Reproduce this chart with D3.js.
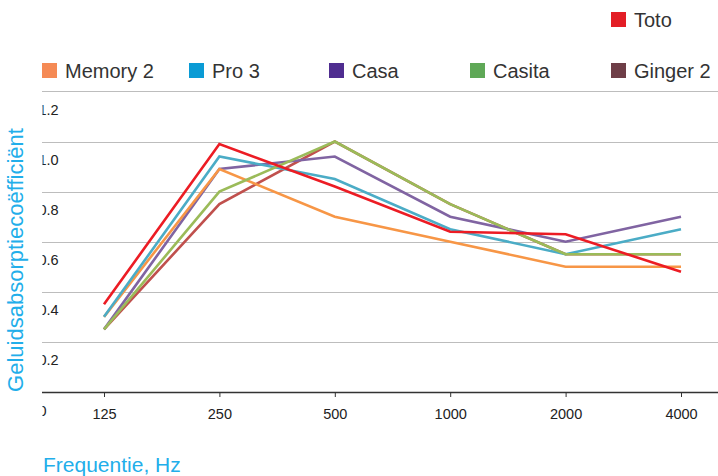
<!DOCTYPE html>
<html><head><meta charset="utf-8">
<script src="https://cdn.jsdelivr.net/npm/d3@7"></script>
<style>body{margin:0;background:#fff}svg{display:block}text{font-family:"Liberation Sans",Arial,sans-serif}</style>
</head><body><svg id="c" width="718" height="476"></svg>
<script>
const categories = ["125","250","500","1000","2000","4000"];
const yTicks = [0,0.2,0.4,0.6,0.8,1.0,1.2];
const yTickLabels = ["0","0.2","0.4","0.6","0.8","1.0","1.2"];
const seriesNames = ["Memory 2","Pro 3","Casa","Casita","Ginger 2","Toto"];
const memory2 = [0.30,0.89,0.70,0.60,0.50,0.50];
const pro3    = [0.30,0.94,0.85,0.65,0.55,0.65];
const casa    = [0.25,0.89,0.94,0.70,0.60,0.70];
const casita  = [0.25,0.80,1.00,0.75,0.55,0.55];
const ginger2 = [0.25,0.75,1.00,0.75,0.55,0.55];
const toto    = [0.35,0.99,0.82,0.64,0.63,0.48];

const lineColors = {"Memory 2":"#F79646","Pro 3":"#4BACC6","Casa":"#8064A2","Casita":"#9BBB59","Ginger 2":"#C0504D","Toto":"#EC1C24"};
const swatchColors = {"Memory 2":"#F58A55","Pro 3":"#0A9BD5","Casa":"#4F2D90","Casita":"#5FA857","Ginger 2":"#6E3E47","Toto":"#E31E26"};
const values = {"Memory 2":memory2,"Pro 3":pro3,"Casa":casa,"Casita":casita,"Ginger 2":ginger2,"Toto":toto};
const drawOrder = ["Ginger 2","Casa","Memory 2","Pro 3","Casita","Toto"];

const svg = d3.select("#c");
const x = d3.scalePoint().domain(categories).range([104,681]);
const y = d3.scaleLinear().domain([0,1.2]).range([392,91.4]);

// gridlines
svg.append("g").selectAll("line").data(yTicks.filter(d=>d>0)).join("line")
  .attr("x1",42).attr("x2",718).attr("y1",d=>Math.round(y(d))+0.5).attr("y2",d=>Math.round(y(d))+0.5)
  .attr("stroke","#BDBDBD").attr("stroke-width",1);

// y labels (clipped at left)
svg.append("clipPath").attr("id","yclip").append("rect").attr("x",42.5).attr("y",0).attr("width",40).attr("height",476);
svg.append("g").attr("clip-path","url(#yclip)").selectAll("text").data(yTicks).join("text")
  .attr("x",38.5).attr("y",d=>y(d)+23.5).attr("font-size",14.5).attr("fill","#222")
  .text((d,i)=>yTickLabels[i]);

// x axis
const xAxis = svg.append("g").attr("transform","translate(0,392)")
  .call(d3.axisBottom(x).tickSize(5).tickPadding(12));
xAxis.select(".domain").attr("d","M42,0.5H718").attr("stroke","#333").attr("stroke-width",1.6);
xAxis.selectAll(".tick line").attr("stroke","#333");
xAxis.selectAll(".tick text").attr("font-size",14.5).attr("fill","#222").attr("font-family","'Liberation Sans',Arial,sans-serif");

// lines
const line = d3.line().x((d,i)=>x(categories[i])).y(d=>y(d));
svg.append("g").selectAll("path").data(drawOrder).join("path")
  .attr("d",n=>line(values[n])).attr("fill","none")
  .attr("stroke",n=>lineColors[n]).attr("stroke-width",2.6).attr("stroke-linejoin","miter");

// legend
const legendPos = {"Toto":[611,12],"Memory 2":[42,63],"Pro 3":[189,63],"Casa":[329,63],"Casita":[470,63],"Ginger 2":[611,63]};
const lg = svg.append("g").selectAll("g").data(seriesNames).join("g")
  .attr("transform",n=>`translate(${legendPos[n][0]},${legendPos[n][1]})`);
lg.append("rect").attr("width",15).attr("height",15).attr("fill",n=>swatchColors[n]);
lg.append("text").attr("x",23).attr("y",14.5).attr("font-size",20).attr("fill","#333").text(n=>n);

// axis titles
svg.append("text").attr("x",43).attr("y",472).attr("font-size",21).attr("fill","#22AEEA").text("Frequentie, Hz");
svg.append("text").attr("transform","translate(23,260) rotate(-90)").attr("text-anchor","middle")
  .attr("font-size",22).attr("fill","#22AEEA").text("Geluidsabsorptiecoëfficiënt");
</script></body></html>
